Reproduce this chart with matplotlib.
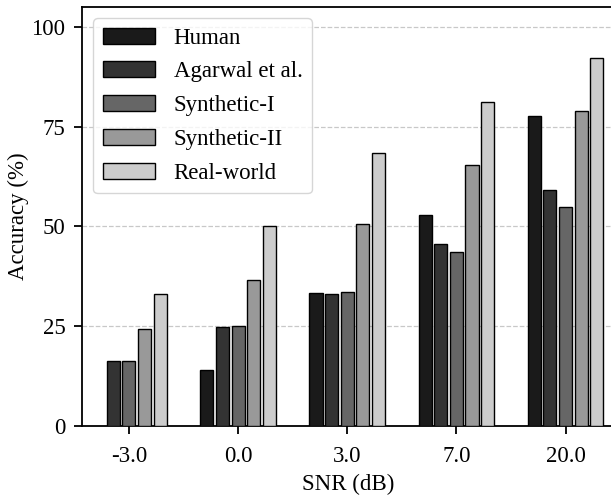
import numpy as np
import matplotlib.pyplot as plt

plt.rcParams['font.family'] = ['Liberation Serif', 'DejaVu Serif']

snr_labels = ['-3.0', '0.0', '3.0', '7.0', '20.0']
series = ['Human', 'Agarwal et al.', 'Synthetic-I', 'Synthetic-II', 'Real-world']
human = [np.nan, 14.1, 33.4, 52.8, 77.8]
agarwal = [16.3, 24.7, 33.2, 45.7, 59.2]
synthetic_1 = [16.2, 25.1, 33.6, 43.7, 54.8]
synthetic_2 = [24.4, 36.7, 50.5, 65.3, 78.9]
real_world = [33.2, 50.2, 68.4, 81.3, 92.1]
colors = ['#1a1a1a', '#333333', '#666666', '#999999', '#cccccc']

values = [human, agarwal, synthetic_1, synthetic_2, real_world]

fig = plt.figure(figsize=(6.11, 4.96), dpi=100)
ax = fig.add_axes([0.1342, 0.141, 0.87, 0.845])

x = np.arange(len(snr_labels))
slot = 0.143
for j, (name, vals, c) in enumerate(zip(series, values, colors)):
    ax.bar(x + (j - 2) * slot, vals, width=0.12, color=c,
           edgecolor='black', linewidth=1.0, label=name, zorder=3)

ax.set_xticks(x)
ax.set_xticklabels(snr_labels)
ax.set_yticks([0, 25, 50, 75, 100])
ax.set_xlim(-0.43, 4.44)
ax.set_ylim(0, 105)
ax.yaxis.grid(True, linestyle='--', color='#c8c8c8', linewidth=0.9, zorder=0)
ax.set_axisbelow(True)
ax.spines['right'].set_visible(False)
for s in ['left', 'bottom', 'top']:
    ax.spines[s].set_linewidth(1.3)
ax.tick_params(labelsize=16.5, width=1.3, length=6)
ax.tick_params(axis='x', pad=8)
ax.tick_params(axis='y', pad=6)
ax.set_xlabel('SNR (dB)', fontsize=16.5, labelpad=5)
ax.set_ylabel('Accuracy (%)', fontsize=16.5, labelpad=2)

ax.legend(loc='upper left', fontsize=16.5, handlelength=2.3,
          labelspacing=0.56, borderaxespad=0.5)

fig.savefig('out.png', dpi=100)
